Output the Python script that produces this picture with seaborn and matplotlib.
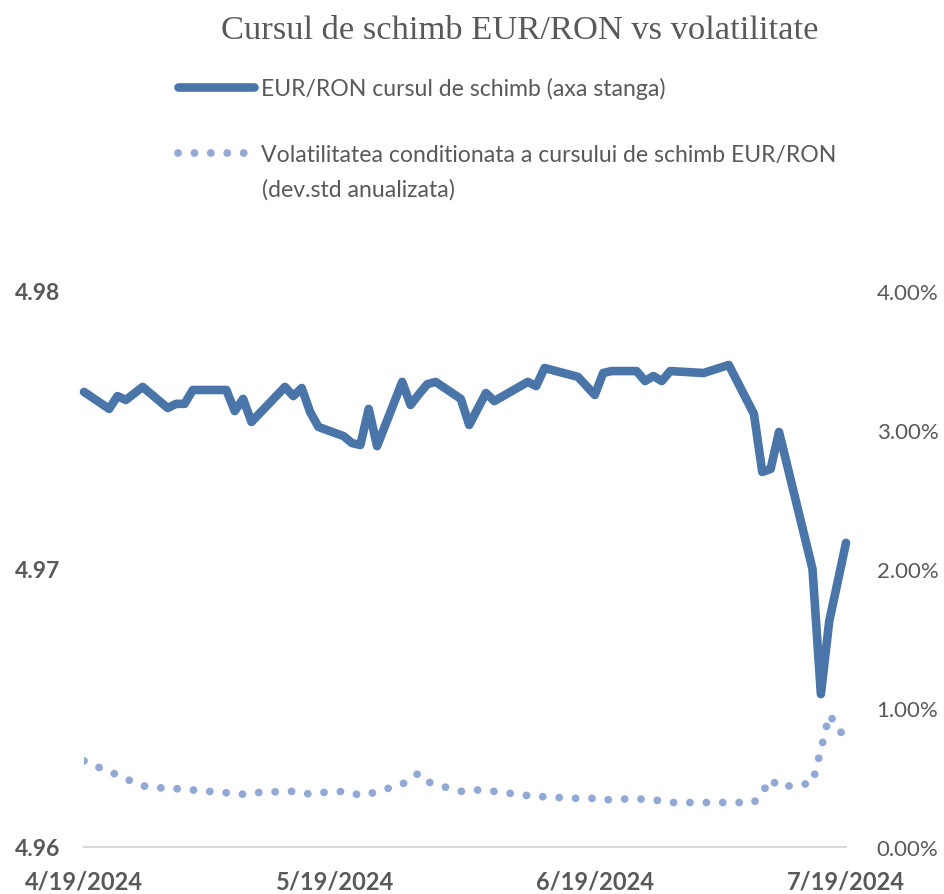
import pandas as pd
import matplotlib
matplotlib.use("Agg")
import matplotlib.pyplot as plt
import seaborn as sns

# date (zile lucratoare)
dates = [
    "2024-04-19", "2024-04-22", "2024-04-23", "2024-04-24", "2024-04-26",
    "2024-04-29", "2024-04-30", "2024-05-01", "2024-05-02", "2024-05-06",
    "2024-05-07", "2024-05-08", "2024-05-09", "2024-05-13", "2024-05-14",
    "2024-05-15", "2024-05-16", "2024-05-17", "2024-05-20", "2024-05-21",
    "2024-05-22", "2024-05-23", "2024-05-24", "2024-05-27", "2024-05-28",
    "2024-05-29", "2024-05-30", "2024-05-31", "2024-06-03", "2024-06-04",
    "2024-06-06", "2024-06-07", "2024-06-11", "2024-06-12", "2024-06-13",
    "2024-06-17", "2024-06-19", "2024-06-20", "2024-06-21", "2024-06-24",
    "2024-06-25", "2024-06-26", "2024-06-27", "2024-06-28", "2024-07-02",
    "2024-07-05", "2024-07-08", "2024-07-09", "2024-07-10", "2024-07-11",
    "2024-07-15", "2024-07-16", "2024-07-17", "2024-07-18", "2024-07-19",
]

# cursul EUR/RON (axa stanga)
eur_ron = [
    4.97637, 4.97576, 4.97622, 4.97608, 4.97655,
    4.97579, 4.97594, 4.97594, 4.97644, 4.97644,
    4.97568, 4.97612, 4.97529, 4.97655, 4.97622,
    4.97651, 4.97565, 4.97511, 4.97478, 4.97453,
    4.97446, 4.97576, 4.97442, 4.97673, 4.97590,
    4.97629, 4.97665, 4.97673, 4.97612, 4.97518,
    4.97633, 4.97604, 4.97673, 4.97658, 4.97723,
    4.97691, 4.97626, 4.97705, 4.97712, 4.97712,
    4.97676, 4.97694, 4.97676, 4.97712, 4.97705,
    4.97734, 4.97558, 4.97349, 4.97360, 4.97493,
    4.97000, 4.96550, 4.96813, 4.96953, 4.97094,
]

# volatilitatea conditionata, % (axa dreapta)
volatilitate = [
    0.62, 0.54, 0.52, 0.49, 0.44,
    0.42, 0.42, 0.41, 0.41, 0.39,
    0.38, 0.38, 0.39, 0.40, 0.40,
    0.39, 0.38, 0.39, 0.40, 0.39,
    0.37, 0.38, 0.40, 0.45, 0.50,
    0.53, 0.47, 0.45, 0.40, 0.41,
    0.41, 0.40, 0.37, 0.37, 0.36,
    0.35, 0.35, 0.34, 0.34, 0.35,
    0.34, 0.34, 0.33, 0.32, 0.32,
    0.32, 0.32, 0.39, 0.49, 0.43,
    0.46, 0.70, 0.95, 0.87, 0.76,
]

tick_labels = ["4/19/2024", "5/19/2024", "6/19/2024", "7/19/2024"]
left_ticks = [4.96, 4.97, 4.98]
right_ticks = [0, 1, 2, 3, 4]

label_curs = "EUR/RON cursul de schimb (axa stanga)"
label_vol = "Volatilitatea conditionata a cursului de schimb EUR/RON"
label_vol_2 = "(dev.std anualizata)"

df = pd.DataFrame({"data": pd.to_datetime(dates), "curs": eur_ron, "vol": volatilitate})

sns.set_style("white")
plt.rcParams["font.family"] = ["Lato", "DejaVu Sans"]

gri = "#595959"
albastru = "#4A75A8"
albastru_deschis = "#92A9D6"

fig = plt.figure(figsize=(9.45, 8.95), dpi=100)
ax = fig.add_axes([84 / 945, 1 - 848 / 895, (846 - 84) / 945, (848 - 292) / 895])
ax2 = ax.twinx()

sns.lineplot(data=df, x="data", y="curs", ax=ax, color=albastru, linewidth=6.2,
             solid_capstyle="round", solid_joinstyle="round", clip_on=False)
sns.lineplot(data=df, x="data", y="vol", ax=ax2, color=albastru_deschis, linewidth=5.6,
             linestyle=(0, (0.01, 2.1)), dash_capstyle="round")

x_ticks = pd.to_datetime(tick_labels, format="%m/%d/%Y")
ax.set_xlim(x_ticks[0], x_ticks[-1])
ax.set_xticks(x_ticks)
ax.set_xticklabels(tick_labels, fontsize=17, fontweight="bold", color=gri)

ax.set_ylim(4.96, 4.98)
ax.set_yticks(left_ticks)
ax.set_yticklabels([f"{v:.2f}" for v in left_ticks], fontsize=16.5, fontweight="bold", color=gri)
ax2.set_ylim(0, 4)
ax2.set_yticks(right_ticks)
ax2.set_yticklabels([f"{v:.2f}%" for v in right_ticks], fontsize=16, color=gri)

ax.set_xlabel("")
ax.set_ylabel("")
ax2.set_ylabel("")

for a in (ax, ax2):
    for s in ("top", "left", "right"):
        a.spines[s].set_visible(False)
    a.spines["bottom"].set_color("#D9D9D9")
    a.spines["bottom"].set_linewidth(1.3)
    a.grid(False)

ax.tick_params(axis="x", direction="out", length=8, width=1.3, color="#D9D9D9", pad=8)
ax.tick_params(axis="y", length=0, pad=17)
ax2.tick_params(axis="y", length=0, pad=22)

fig.text(520 / 945, 1 - 31 / 895, "Cursul de schimb EUR/RON vs volatilitate",
         ha="center", va="center", fontsize=24.8, color=gri, family=["Liberation Serif"])

fig.legend(handles=[ax.lines[0], ax2.lines[0]], labels=[label_curs, label_vol],
           loc="upper left", bbox_to_anchor=(178 / 945, 1 - 78 / 895), frameon=False,
           fontsize=16.6, labelcolor=gri, handlelength=3.3, handletextpad=0.3,
           labelspacing=1.95, borderpad=0, borderaxespad=0)
fig.text(262 / 945, 1 - 190 / 895, label_vol_2, ha="left", va="center",
         fontsize=16.6, color=gri)

fig.savefig("out.png", dpi=100)
